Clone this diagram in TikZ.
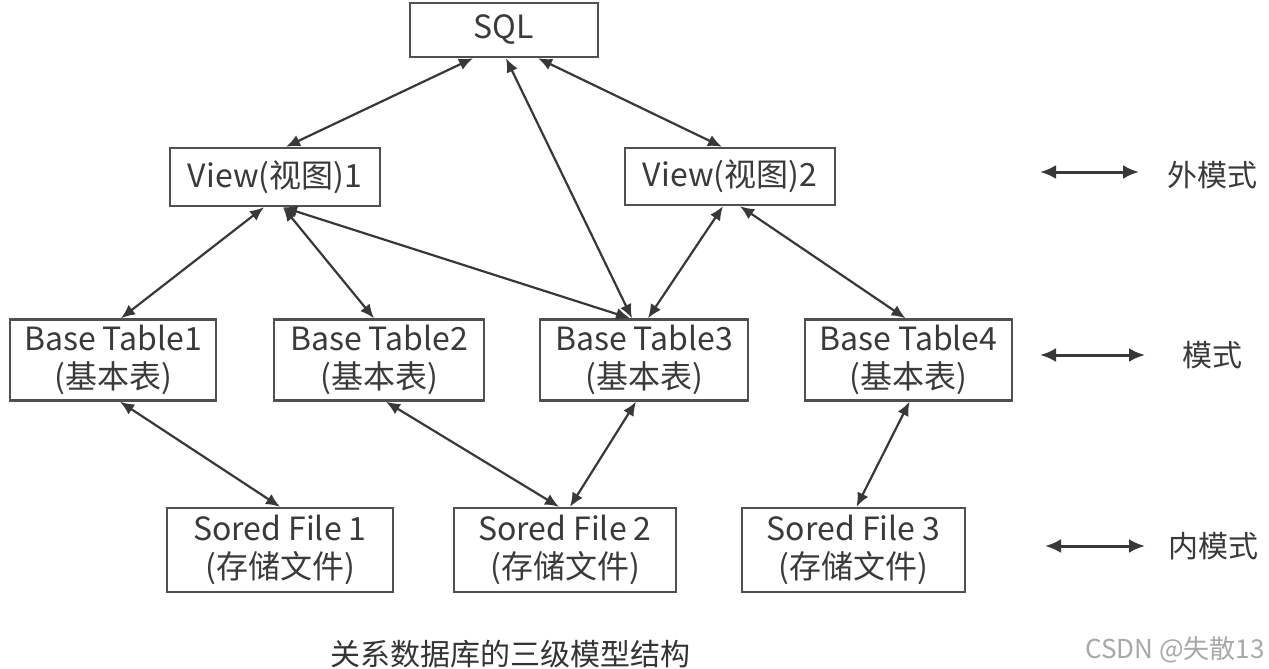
\documentclass[tikz,border=0pt]{standalone}
\usepackage{fontspec}
\setmainfont{Noto Sans CJK SC}
\usetikzlibrary{arrows.meta}
\definecolor{txt}{HTML}{3A3A3A}
\definecolor{edge}{HTML}{383838}
\definecolor{frame}{HTML}{505050}
\definecolor{mark}{HTML}{A8A8A8}
\tikzset{
  box/.style={draw=frame, line width=1.2pt, text=txt, align=center, inner sep=0pt,
    font=\fontsize{16}{19}\selectfont},
  link/.style={draw=edge, line width=1.1pt, {Latex[length=7pt,width=6pt]}-{Latex[length=7pt,width=6pt]}},
  legend/.style={draw=edge, line width=1.5pt, {Latex[length=8pt,width=7pt]}-{Latex[length=8pt,width=7pt]}},
  lab/.style={text=txt, inner sep=0pt, font=\fontsize{15}{16}\selectfont},
}
\begin{document}
\begin{tikzpicture}[x=0.5pt,y=-0.5pt]
\fill[white] (0,0) rectangle (1269,669);
\useasboundingbox (0,0) rectangle (1269,669);

\node[box, minimum width=94pt, minimum height=27pt] (sql) at (504,30) {SQL};
\node[box, minimum width=105pt, minimum height=29pt] (v1) at (275,177) {View(视图)1};
\node[box, minimum width=105pt, minimum height=28.5pt] (v2) at (730,176.5) {View(视图)2};

\node[box, minimum width=103pt, minimum height=40.5pt] (b1) at (113,360) {Base Table1\\(基本表)};
\node[box, minimum width=105pt, minimum height=40.5pt] (b2) at (379,360) {Base Table2\\(基本表)};
\node[box, minimum width=104pt, minimum height=40.5pt] (b3) at (644,360) {Base Table3\\(基本表)};
\node[box, minimum width=103.5pt, minimum height=40.5pt] (b4) at (908.5,360) {Base Table4\\(基本表)};

\node[box, minimum width=113pt, minimum height=42pt] (f1) at (280,550) {Sored File 1\\(存储文件)};
\node[box, minimum width=111pt, minimum height=42pt] (f2) at (565,550) {Sored File 2\\(存储文件)};
\node[box, minimum width=111.5pt, minimum height=42pt] (f3) at (853.5,550) {Sored File 3\\(存储文件)};

% SQL links
\draw[link] ([xshift=-15.5pt]sql.south) -- ([xshift=5.5pt]v1.north);
\draw[link] ([xshift=1pt]sql.south) -- ([xshift=-6pt]b3.north);
\draw[link] ([xshift=17pt]sql.south) -- ([xshift=-4pt]v2.north);

% View links
\draw[link] ([xshift=-5.5pt]v1.south) -- ([xshift=4pt]b1.north);
\draw[link] ([xshift=4pt]v1.south) -- ([xshift=-2.5pt]b2.north);
\draw[link] ([xshift=4pt]v1.south) -- ([xshift=-7pt]b3.north);
\draw[link] ([xshift=-3.5pt]v2.south) -- ([xshift=2pt]b3.north);
\draw[link] ([xshift=5pt]v2.south) -- ([xshift=-1.5pt]b4.north);

% Base table to files
\draw[link] ([xshift=3.5pt]b1.south) -- ([xshift=0pt]f1.north);
\draw[link] ([xshift=3.5pt]b2.south) -- ([xshift=-3pt]f2.north);
\draw[link] ([xshift=-4pt]b3.south) -- ([xshift=2.5pt]f2.north);
\draw[link] ([xshift=0.5pt]b4.south) -- ([xshift=1.5pt]f3.north);

% legend
\coordinate (la1) at (1040,172); \coordinate (lb1) at (1139,172);
\coordinate (la2) at (1040,355); \coordinate (lb2) at (1145,355);
\coordinate (la3) at (1045,546); \coordinate (lb3) at (1145,546);
\draw[legend] (la1) -- (lb1);
\draw[legend] (la2) -- (lb2);
\draw[legend] (la3) -- (lb3);
\node[lab] (t1) at (1212,175) {外模式};
\node[lab] (t2) at (1212,355) {模式};
\node[lab] (t3) at (1213,546) {内模式};

\node[lab, text=txt!90!black] (cap) at (510,654) {关系数据库的三级模型结构};
\node[text=mark, inner sep=0pt, font=\fontsize{13}{14}\selectfont] (wm) at (1175,650) {CSDN @失散13};
\end{tikzpicture}
\end{document}
